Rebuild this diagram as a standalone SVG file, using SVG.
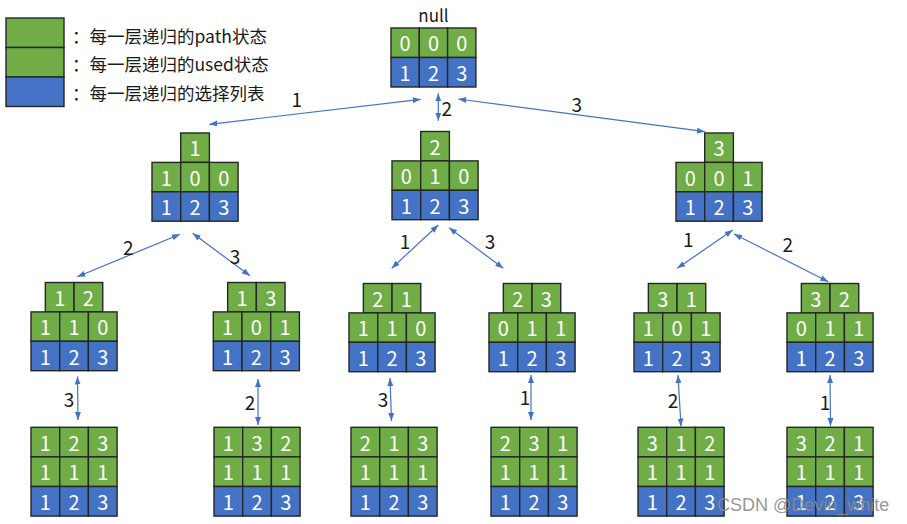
<svg xmlns="http://www.w3.org/2000/svg" width="907" height="524" viewBox="0 0 907 524">
<style>
.g{fill:#70AD47;stroke:#262626;stroke-width:1.4}
.b{fill:#4472C4;stroke:#262626;stroke-width:1.4}
.t{fill:#fff;font-family:"Noto Sans CJK SC","Noto Sans",sans-serif;font-size:20px;text-anchor:middle;dominant-baseline:central}
.lg{fill:#1a1a1a;font-family:"Noto Sans CJK SC",sans-serif;font-size:17.5px;dominant-baseline:central}
.el{fill:#1a1a1a;font-family:"Noto Sans CJK SC","Noto Sans",sans-serif;font-size:19px;text-anchor:middle;dominant-baseline:central}
.e{stroke:#4472C4;stroke-width:1.2;fill:none;marker-start:url(#ah);marker-end:url(#ah)}
</style>
<defs>
<marker id="ah" viewBox="0 0 8 6" refX="8" refY="3" markerWidth="8" markerHeight="6" markerUnits="userSpaceOnUse" orient="auto-start-reverse">
<path d="M0,0 L8,3 L0,6 z" fill="#4472C4"/>
</marker>
</defs>
<rect width="907" height="524" fill="#fff"/>

<g id="legend">
<rect class="g" x="6" y="18" width="58" height="29.5"/>
<rect class="g" x="6" y="47.5" width="58" height="29.5"/>
<rect class="b" x="6" y="77" width="58" height="29.5"/>
<text class="lg" x="72" y="35">：每一层递归的path状态</text>
<text class="lg" x="72" y="63">：每一层递归的used状态</text>
<text class="lg" x="72" y="92">：每一层递归的选择列表</text>
</g>

<g id="root" transform="translate(391,28)">
<text class="el" x="42.5" y="-14" style="font-size:17px">null</text>
<rect class="g" x="0" y="0" width="28.3" height="29.5"/><rect class="g" x="28.3" y="0" width="28.3" height="29.5"/><rect class="g" x="56.6" y="0" width="28.3" height="29.5"/>
<rect class="b" x="0" y="29.5" width="28.3" height="29.5"/><rect class="b" x="28.3" y="29.5" width="28.3" height="29.5"/><rect class="b" x="56.6" y="29.5" width="28.3" height="29.5"/>
<text class="t" x="14.15" y="14.75">0</text><text class="t" x="42.45" y="14.75">0</text><text class="t" x="70.75" y="14.75">0</text>
<text class="t" x="14.15" y="44.25">1</text><text class="t" x="42.45" y="44.25">2</text><text class="t" x="70.75" y="44.25">3</text>
</g>

<g id="n1" transform="translate(152,133)">
<rect class="g" x="28.7" y="0" width="28.7" height="29.4"/>
<rect class="g" x="0" y="29.4" width="28.7" height="29.4"/><rect class="g" x="28.7" y="29.4" width="28.7" height="29.4"/><rect class="g" x="57.4" y="29.4" width="28.7" height="29.4"/>
<rect class="b" x="0" y="58.8" width="28.7" height="29.4"/><rect class="b" x="28.7" y="58.8" width="28.7" height="29.4"/><rect class="b" x="57.4" y="58.8" width="28.7" height="29.4"/>
<text class="t" x="43.05" y="14.7">1</text>
<text class="t" x="14.35" y="44.1">1</text><text class="t" x="43.05" y="44.1">0</text><text class="t" x="71.75" y="44.1">0</text>
<text class="t" x="14.35" y="73.5">1</text><text class="t" x="43.05" y="73.5">2</text><text class="t" x="71.75" y="73.5">3</text>
</g>

<g id="n2" transform="translate(392,131.5)">
<rect class="g" x="28.7" y="0" width="28.7" height="29.4"/>
<rect class="g" x="0" y="29.4" width="28.7" height="29.4"/><rect class="g" x="28.7" y="29.4" width="28.7" height="29.4"/><rect class="g" x="57.4" y="29.4" width="28.7" height="29.4"/>
<rect class="b" x="0" y="58.8" width="28.7" height="29.4"/><rect class="b" x="28.7" y="58.8" width="28.7" height="29.4"/><rect class="b" x="57.4" y="58.8" width="28.7" height="29.4"/>
<text class="t" x="43.05" y="14.7">2</text>
<text class="t" x="14.35" y="44.1">0</text><text class="t" x="43.05" y="44.1">1</text><text class="t" x="71.75" y="44.1">0</text>
<text class="t" x="14.35" y="73.5">1</text><text class="t" x="43.05" y="73.5">2</text><text class="t" x="71.75" y="73.5">3</text>
</g>

<g id="n3" transform="translate(676,133)">
<rect class="g" x="28.7" y="0" width="28.7" height="29.4"/>
<rect class="g" x="0" y="29.4" width="28.7" height="29.4"/><rect class="g" x="28.7" y="29.4" width="28.7" height="29.4"/><rect class="g" x="57.4" y="29.4" width="28.7" height="29.4"/>
<rect class="b" x="0" y="58.8" width="28.7" height="29.4"/><rect class="b" x="28.7" y="58.8" width="28.7" height="29.4"/><rect class="b" x="57.4" y="58.8" width="28.7" height="29.4"/>
<text class="t" x="43.05" y="14.7">3</text>
<text class="t" x="14.35" y="44.1">0</text><text class="t" x="43.05" y="44.1">0</text><text class="t" x="71.75" y="44.1">1</text>
<text class="t" x="14.35" y="73.5">1</text><text class="t" x="43.05" y="73.5">2</text><text class="t" x="71.75" y="73.5">3</text>
</g>

<g id="n12" transform="translate(31,282.5)">
<rect class="g" x="14.35" y="0" width="28.7" height="29.4"/><rect class="g" x="43.05" y="0" width="28.7" height="29.4"/>
<rect class="g" x="0" y="29.4" width="28.7" height="29.4"/><rect class="g" x="28.7" y="29.4" width="28.7" height="29.4"/><rect class="g" x="57.4" y="29.4" width="28.7" height="29.4"/>
<rect class="b" x="0" y="58.8" width="28.7" height="29.4"/><rect class="b" x="28.7" y="58.8" width="28.7" height="29.4"/><rect class="b" x="57.4" y="58.8" width="28.7" height="29.4"/>
<text class="t" x="28.7" y="14.7">1</text><text class="t" x="57.4" y="14.7">2</text>
<text class="t" x="14.35" y="44.1">1</text><text class="t" x="43.05" y="44.1">1</text><text class="t" x="71.75" y="44.1">0</text>
<text class="t" x="14.35" y="73.5">1</text><text class="t" x="43.05" y="73.5">2</text><text class="t" x="71.75" y="73.5">3</text>
</g>

<g id="n13" transform="translate(213.3,282.5)">
<rect class="g" x="14.35" y="0" width="28.7" height="29.4"/><rect class="g" x="43.05" y="0" width="28.7" height="29.4"/>
<rect class="g" x="0" y="29.4" width="28.7" height="29.4"/><rect class="g" x="28.7" y="29.4" width="28.7" height="29.4"/><rect class="g" x="57.4" y="29.4" width="28.7" height="29.4"/>
<rect class="b" x="0" y="58.8" width="28.7" height="29.4"/><rect class="b" x="28.7" y="58.8" width="28.7" height="29.4"/><rect class="b" x="57.4" y="58.8" width="28.7" height="29.4"/>
<text class="t" x="28.7" y="14.7">1</text><text class="t" x="57.4" y="14.7">3</text>
<text class="t" x="14.35" y="44.1">1</text><text class="t" x="43.05" y="44.1">0</text><text class="t" x="71.75" y="44.1">1</text>
<text class="t" x="14.35" y="73.5">1</text><text class="t" x="43.05" y="73.5">2</text><text class="t" x="71.75" y="73.5">3</text>
</g>

<g id="n21" transform="translate(349,283.5)">
<rect class="g" x="14.35" y="0" width="28.7" height="29.4"/><rect class="g" x="43.05" y="0" width="28.7" height="29.4"/>
<rect class="g" x="0" y="29.4" width="28.7" height="29.4"/><rect class="g" x="28.7" y="29.4" width="28.7" height="29.4"/><rect class="g" x="57.4" y="29.4" width="28.7" height="29.4"/>
<rect class="b" x="0" y="58.8" width="28.7" height="29.4"/><rect class="b" x="28.7" y="58.8" width="28.7" height="29.4"/><rect class="b" x="57.4" y="58.8" width="28.7" height="29.4"/>
<text class="t" x="28.7" y="14.7">2</text><text class="t" x="57.4" y="14.7">1</text>
<text class="t" x="14.35" y="44.1">1</text><text class="t" x="43.05" y="44.1">1</text><text class="t" x="71.75" y="44.1">0</text>
<text class="t" x="14.35" y="73.5">1</text><text class="t" x="43.05" y="73.5">2</text><text class="t" x="71.75" y="73.5">3</text>
</g>

<g id="n23" transform="translate(489,283.5)">
<rect class="g" x="14.35" y="0" width="28.7" height="29.4"/><rect class="g" x="43.05" y="0" width="28.7" height="29.4"/>
<rect class="g" x="0" y="29.4" width="28.7" height="29.4"/><rect class="g" x="28.7" y="29.4" width="28.7" height="29.4"/><rect class="g" x="57.4" y="29.4" width="28.7" height="29.4"/>
<rect class="b" x="0" y="58.8" width="28.7" height="29.4"/><rect class="b" x="28.7" y="58.8" width="28.7" height="29.4"/><rect class="b" x="57.4" y="58.8" width="28.7" height="29.4"/>
<text class="t" x="28.7" y="14.7">2</text><text class="t" x="57.4" y="14.7">3</text>
<text class="t" x="14.35" y="44.1">0</text><text class="t" x="43.05" y="44.1">1</text><text class="t" x="71.75" y="44.1">1</text>
<text class="t" x="14.35" y="73.5">1</text><text class="t" x="43.05" y="73.5">2</text><text class="t" x="71.75" y="73.5">3</text>
</g>

<g id="n31" transform="translate(634,283.5)">
<rect class="g" x="14.35" y="0" width="28.7" height="29.4"/><rect class="g" x="43.05" y="0" width="28.7" height="29.4"/>
<rect class="g" x="0" y="29.4" width="28.7" height="29.4"/><rect class="g" x="28.7" y="29.4" width="28.7" height="29.4"/><rect class="g" x="57.4" y="29.4" width="28.7" height="29.4"/>
<rect class="b" x="0" y="58.8" width="28.7" height="29.4"/><rect class="b" x="28.7" y="58.8" width="28.7" height="29.4"/><rect class="b" x="57.4" y="58.8" width="28.7" height="29.4"/>
<text class="t" x="28.7" y="14.7">3</text><text class="t" x="57.4" y="14.7">1</text>
<text class="t" x="14.35" y="44.1">1</text><text class="t" x="43.05" y="44.1">0</text><text class="t" x="71.75" y="44.1">1</text>
<text class="t" x="14.35" y="73.5">1</text><text class="t" x="43.05" y="73.5">2</text><text class="t" x="71.75" y="73.5">3</text>
</g>

<g id="n32" transform="translate(787,283.5)">
<rect class="g" x="14.35" y="0" width="28.7" height="29.4"/><rect class="g" x="43.05" y="0" width="28.7" height="29.4"/>
<rect class="g" x="0" y="29.4" width="28.7" height="29.4"/><rect class="g" x="28.7" y="29.4" width="28.7" height="29.4"/><rect class="g" x="57.4" y="29.4" width="28.7" height="29.4"/>
<rect class="b" x="0" y="58.8" width="28.7" height="29.4"/><rect class="b" x="28.7" y="58.8" width="28.7" height="29.4"/><rect class="b" x="57.4" y="58.8" width="28.7" height="29.4"/>
<text class="t" x="28.7" y="14.7">3</text><text class="t" x="57.4" y="14.7">2</text>
<text class="t" x="14.35" y="44.1">0</text><text class="t" x="43.05" y="44.1">1</text><text class="t" x="71.75" y="44.1">1</text>
<text class="t" x="14.35" y="73.5">1</text><text class="t" x="43.05" y="73.5">2</text><text class="t" x="71.75" y="73.5">3</text>
</g>

<g id="n123" transform="translate(31,427.3)">
<rect class="g" x="0" y="0" width="28.7" height="29.6"/><rect class="g" x="28.7" y="0" width="28.7" height="29.6"/><rect class="g" x="57.4" y="0" width="28.7" height="29.6"/>
<rect class="g" x="0" y="29.6" width="28.7" height="29.6"/><rect class="g" x="28.7" y="29.6" width="28.7" height="29.6"/><rect class="g" x="57.4" y="29.6" width="28.7" height="29.6"/>
<rect class="b" x="0" y="59.2" width="28.7" height="29.6"/><rect class="b" x="28.7" y="59.2" width="28.7" height="29.6"/><rect class="b" x="57.4" y="59.2" width="28.7" height="29.6"/>
<text class="t" x="14.35" y="14.8">1</text><text class="t" x="43.05" y="14.8">2</text><text class="t" x="71.75" y="14.8">3</text>
<text class="t" x="14.35" y="44.4">1</text><text class="t" x="43.05" y="44.4">1</text><text class="t" x="71.75" y="44.4">1</text>
<text class="t" x="14.35" y="74">1</text><text class="t" x="43.05" y="74">2</text><text class="t" x="71.75" y="74">3</text>
</g>

<g id="n132" transform="translate(214,427.3)">
<rect class="g" x="0" y="0" width="28.7" height="29.6"/><rect class="g" x="28.7" y="0" width="28.7" height="29.6"/><rect class="g" x="57.4" y="0" width="28.7" height="29.6"/>
<rect class="g" x="0" y="29.6" width="28.7" height="29.6"/><rect class="g" x="28.7" y="29.6" width="28.7" height="29.6"/><rect class="g" x="57.4" y="29.6" width="28.7" height="29.6"/>
<rect class="b" x="0" y="59.2" width="28.7" height="29.6"/><rect class="b" x="28.7" y="59.2" width="28.7" height="29.6"/><rect class="b" x="57.4" y="59.2" width="28.7" height="29.6"/>
<text class="t" x="14.35" y="14.8">1</text><text class="t" x="43.05" y="14.8">3</text><text class="t" x="71.75" y="14.8">2</text>
<text class="t" x="14.35" y="44.4">1</text><text class="t" x="43.05" y="44.4">1</text><text class="t" x="71.75" y="44.4">1</text>
<text class="t" x="14.35" y="74">1</text><text class="t" x="43.05" y="74">2</text><text class="t" x="71.75" y="74">3</text>
</g>

<g id="n213" transform="translate(351,427.3)">
<rect class="g" x="0" y="0" width="28.7" height="29.6"/><rect class="g" x="28.7" y="0" width="28.7" height="29.6"/><rect class="g" x="57.4" y="0" width="28.7" height="29.6"/>
<rect class="g" x="0" y="29.6" width="28.7" height="29.6"/><rect class="g" x="28.7" y="29.6" width="28.7" height="29.6"/><rect class="g" x="57.4" y="29.6" width="28.7" height="29.6"/>
<rect class="b" x="0" y="59.2" width="28.7" height="29.6"/><rect class="b" x="28.7" y="59.2" width="28.7" height="29.6"/><rect class="b" x="57.4" y="59.2" width="28.7" height="29.6"/>
<text class="t" x="14.35" y="14.8">2</text><text class="t" x="43.05" y="14.8">1</text><text class="t" x="71.75" y="14.8">3</text>
<text class="t" x="14.35" y="44.4">1</text><text class="t" x="43.05" y="44.4">1</text><text class="t" x="71.75" y="44.4">1</text>
<text class="t" x="14.35" y="74">1</text><text class="t" x="43.05" y="74">2</text><text class="t" x="71.75" y="74">3</text>
</g>

<g id="n231" transform="translate(491,427.3)">
<rect class="g" x="0" y="0" width="28.7" height="29.6"/><rect class="g" x="28.7" y="0" width="28.7" height="29.6"/><rect class="g" x="57.4" y="0" width="28.7" height="29.6"/>
<rect class="g" x="0" y="29.6" width="28.7" height="29.6"/><rect class="g" x="28.7" y="29.6" width="28.7" height="29.6"/><rect class="g" x="57.4" y="29.6" width="28.7" height="29.6"/>
<rect class="b" x="0" y="59.2" width="28.7" height="29.6"/><rect class="b" x="28.7" y="59.2" width="28.7" height="29.6"/><rect class="b" x="57.4" y="59.2" width="28.7" height="29.6"/>
<text class="t" x="14.35" y="14.8">2</text><text class="t" x="43.05" y="14.8">3</text><text class="t" x="71.75" y="14.8">1</text>
<text class="t" x="14.35" y="44.4">1</text><text class="t" x="43.05" y="44.4">1</text><text class="t" x="71.75" y="44.4">1</text>
<text class="t" x="14.35" y="74">1</text><text class="t" x="43.05" y="74">2</text><text class="t" x="71.75" y="74">3</text>
</g>

<g id="n312" transform="translate(638,427.3)">
<rect class="g" x="0" y="0" width="28.7" height="29.6"/><rect class="g" x="28.7" y="0" width="28.7" height="29.6"/><rect class="g" x="57.4" y="0" width="28.7" height="29.6"/>
<rect class="g" x="0" y="29.6" width="28.7" height="29.6"/><rect class="g" x="28.7" y="29.6" width="28.7" height="29.6"/><rect class="g" x="57.4" y="29.6" width="28.7" height="29.6"/>
<rect class="b" x="0" y="59.2" width="28.7" height="29.6"/><rect class="b" x="28.7" y="59.2" width="28.7" height="29.6"/><rect class="b" x="57.4" y="59.2" width="28.7" height="29.6"/>
<text class="t" x="14.35" y="14.8">3</text><text class="t" x="43.05" y="14.8">1</text><text class="t" x="71.75" y="14.8">2</text>
<text class="t" x="14.35" y="44.4">1</text><text class="t" x="43.05" y="44.4">1</text><text class="t" x="71.75" y="44.4">1</text>
<text class="t" x="14.35" y="74">1</text><text class="t" x="43.05" y="74">2</text><text class="t" x="71.75" y="74">3</text>
</g>

<g id="n321" transform="translate(787,427.3)">
<rect class="g" x="0" y="0" width="28.7" height="29.6"/><rect class="g" x="28.7" y="0" width="28.7" height="29.6"/><rect class="g" x="57.4" y="0" width="28.7" height="29.6"/>
<rect class="g" x="0" y="29.6" width="28.7" height="29.6"/><rect class="g" x="28.7" y="29.6" width="28.7" height="29.6"/><rect class="g" x="57.4" y="29.6" width="28.7" height="29.6"/>
<rect class="b" x="0" y="59.2" width="28.7" height="29.6"/><rect class="b" x="28.7" y="59.2" width="28.7" height="29.6"/><rect class="b" x="57.4" y="59.2" width="28.7" height="29.6"/>
<text class="t" x="14.35" y="14.8">3</text><text class="t" x="43.05" y="14.8">2</text><text class="t" x="71.75" y="14.8">1</text>
<text class="t" x="14.35" y="44.4">1</text><text class="t" x="43.05" y="44.4">1</text><text class="t" x="71.75" y="44.4">1</text>
<text class="t" x="14.35" y="74">1</text><text class="t" x="43.05" y="74">2</text><text class="t" x="71.75" y="74">3</text>
</g>

<g id="connectors">
<line class="e" x1="420.7" y1="99.3" x2="209.3" y2="124.3"/>
<line class="e" x1="438.3" y1="93.3" x2="438.3" y2="120.7"/>
<line class="e" x1="458.3" y1="99" x2="705" y2="131.7"/>
<line class="e" x1="180" y1="234.3" x2="77.3" y2="276.7"/>
<line class="e" x1="192.7" y1="233.3" x2="250" y2="275.7"/>
<line class="e" x1="438.3" y1="225" x2="391.7" y2="268.3"/>
<line class="e" x1="449" y1="227.7" x2="503.3" y2="268.3"/>
<line class="e" x1="732.7" y1="230" x2="677.3" y2="268.3"/>
<line class="e" x1="734" y1="234" x2="828.3" y2="281.7"/>
<line class="e" x1="77.5" y1="376.5" x2="78" y2="420"/>
<line class="e" x1="258" y1="379" x2="258" y2="425"/>
<line class="e" x1="390" y1="378" x2="391.5" y2="421"/>
<line class="e" x1="531" y1="375" x2="531" y2="420"/>
<line class="e" x1="678" y1="375" x2="681" y2="426.5"/>
<line class="e" x1="830" y1="375" x2="830.5" y2="426"/>
<text class="el" x="296.7" y="98.3">1</text>
<text class="el" x="446.7" y="107.7">2</text>
<text class="el" x="576.7" y="103.3">3</text>
<text class="el" x="128.3" y="246.7">2</text>
<text class="el" x="235" y="255">3</text>
<text class="el" x="405" y="240">1</text>
<text class="el" x="490" y="240">3</text>
<text class="el" x="688.3" y="238.3">1</text>
<text class="el" x="787.7" y="243.3">2</text>
<text class="el" x="69" y="398">3</text>
<text class="el" x="250" y="401">2</text>
<text class="el" x="383" y="398">3</text>
<text class="el" x="525" y="396">1</text>
<text class="el" x="673" y="399">2</text>
<text class="el" x="825" y="401">1</text>
</g>

<text x="717" y="505" style="font-family:'Liberation Sans',Arial,sans-serif;font-size:18px;fill:#8a8a8a;fill-opacity:0.9;dominant-baseline:central">CSDN @Devin_white</text>
</svg>
